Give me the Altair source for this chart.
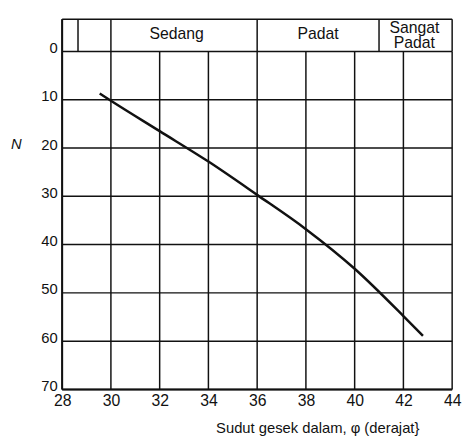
import altair as alt
import pandas as pd

# ---- data ----
x_ticks = [28, 30, 32, 34, 36, 38, 40, 42, 44]
y_ticks = [0, 10, 20, 30, 40, 50, 60, 70]
band_top = -6.7
band_edges = [28, 28.65, 30, 36, 41, 44]
band_label_text = ["Sedang", "Padat", "Sangat", "Padat"]
band_label_x = [32.7, 38.5, 42.45, 42.45]
band_label_y = [-3.7, -3.7, -4.9, -1.7]
curve_phi = [29.54, 30.0, 32.0, 34.0, 36.0, 38.0, 40.0, 42.0, 42.8]
curve_N = [8.7, 10.2, 16.5, 22.8, 29.7, 36.8, 45.0, 54.8, 58.9]

FONT = "Liberation Sans"
INK = "#111111"

xscale = alt.Scale(domain=[28, 44], nice=False, zero=False)
yscale = alt.Scale(domain=[band_top, 70], nice=False, zero=False, reverse=True)

xaxis = alt.Axis(values=x_ticks, grid=False, domain=False, ticks=False,
                 labelFont=FONT, labelFontSize=16, labelColor=INK, labelPadding=3,
                 labelFlush=False, labelOverlap=False,
                 title="Sudut gesek dalam, φ (derajat}", titleFont=FONT, titleFontSize=15,
                 titleFontWeight="normal", titleColor=INK, titleX=259, titleY=44,
                 titleAlign="center", titleBaseline="alphabetic")
yaxis = alt.Axis(values=y_ticks, grid=False, domain=False, ticks=False,
                 labelFont=FONT, labelFontSize=15, labelColor=INK, labelPadding=5,
                 labelOffset=-4, labelOverlap=False, labelFlush=False,
                 title="N", titleFont=FONT, titleFontSize=15, titleFontStyle="italic",
                 titleFontWeight="normal", titleColor=INK, titleAngle=0,
                 titleX=-47, titleY=126, titleAlign="center", titleBaseline="middle")

X = lambda f: alt.X(f, type="quantitative", scale=xscale, axis=xaxis)
Y = lambda f: alt.Y(f, type="quantitative", scale=yscale, axis=yaxis)

vgrid = pd.DataFrame({"x": x_ticks, "y": [0] * len(x_ticks), "y2": [70] * len(x_ticks)})
hgrid = pd.DataFrame({"y": y_ticks, "x": [28] * len(y_ticks), "x2": [44] * len(y_ticks)})
bandv = pd.DataFrame({"x": band_edges, "y": [band_top] * len(band_edges), "y2": [0] * len(band_edges)})
bandh = pd.DataFrame({"y": [band_top], "x": [28], "x2": [44]})
labels = pd.DataFrame({"x": band_label_x, "y": band_label_y, "t": band_label_text})
curve = pd.DataFrame({"x": curve_phi, "y": curve_N})
frame = pd.DataFrame({"x": [28, 28], "y": [band_top, 70], "x2": [28, 44], "y2": [70, 70]})

l_v = alt.Chart(vgrid).mark_rule(color=INK, strokeWidth=1.5).encode(x=X("x"), y=Y("y"), y2="y2")
l_h = alt.Chart(hgrid).mark_rule(color=INK, strokeWidth=1.5).encode(x=X("x"), x2="x2", y=Y("y"))
l_bv = alt.Chart(bandv).mark_rule(color=INK, strokeWidth=1.5).encode(x=X("x"), y=Y("y"), y2="y2")
l_bh = alt.Chart(bandh).mark_rule(color=INK, strokeWidth=1.5).encode(x=X("x"), x2="x2", y=Y("y"))
l_fr = alt.Chart(frame).mark_rule(color=INK, strokeWidth=2).encode(x=X("x"), x2="x2", y=Y("y"), y2="y2")
l_txt = alt.Chart(labels).mark_text(font=FONT, fontSize=16, color=INK, baseline="middle", align="center").encode(
    x=X("x"), y=Y("y"), text="t:N")
l_curve = alt.Chart(curve).mark_line(color=INK, strokeWidth=2.5, interpolate="monotone").encode(
    x=X("x"), y=Y("y"))

chart = alt.layer(l_v, l_h, l_bv, l_bh, l_fr, l_curve, l_txt).properties(
    width=396, height=376,
    autosize=alt.AutoSizeParams(type="none"),
    padding={"left": 55, "top": 8, "right": 10, "bottom": 46},
    background="white",
).configure_view(stroke=None)

chart.save("out.html", embed_options={"renderer": "svg", "actions": False})
